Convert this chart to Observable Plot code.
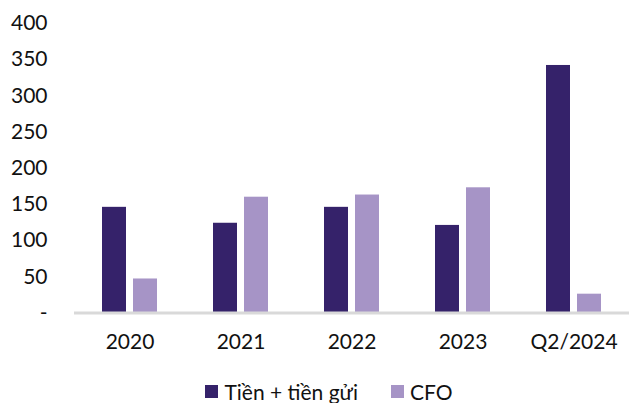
<!DOCTYPE html>
<html>
<head>
<meta charset="utf-8">
<script src="https://cdn.jsdelivr.net/npm/d3@7"></script>
<script src="https://cdn.jsdelivr.net/npm/@observablehq/plot@0.6"></script>
<style>
  html, body { margin: 0; padding: 0; background: #fff; }
  #chart { width: 630px; font-family: Lato, "Open Sans", sans-serif; }
  .legend { display: flex; justify-content: center; align-items: center; gap: 33px; height: 24px; padding-top: 17px; font-size: 21px; color: #111; padding-left: 28px; }
  .legend span.item { display: flex; align-items: center; gap: 6px; }
  .legend i { display: inline-block; width: 13px; height: 13px; }
</style>
</head>
<body>
<div id="chart"></div>
<script>
const periods = ["2020", "2021", "2022", "2023", "Q2/2024"];
const seriesNames = ["Tiền + tiền gửi", "CFO"];
const cashDeposits = [146, 124, 146, 121, 342];
const cfo = [47, 160, 163, 173, 26];
const colors = ["#35226a", "#a694c6"];
const yTicks = [0, 50, 100, 150, 200, 250, 300, 350, 400];

const data = [];
periods.forEach((p, i) => {
  data.push({period: p, series: seriesNames[0], value: cashDeposits[i]});
  data.push({period: p, series: seriesNames[1], value: cfo[i]});
});

const chart = Plot.plot({
  width: 630,
  height: 362,
  marginLeft: 72,
  marginRight: 0,
  marginTop: 23,
  marginBottom: 49.5,
  style: {fontFamily: "Lato, 'Open Sans', sans-serif", fontSize: "21px", color: "#111", background: "#fff"},
  fx: {domain: periods, padding: 0, label: null, axis: null},
  x: {domain: seriesNames, paddingInner: 0.22, paddingOuter: 0.854, axis: null},
  y: {domain: [0, 400], ticks: yTicks, label: null},
  color: {domain: seriesNames, range: colors},
  marks: [
    Plot.axisY({ticks: yTicks, tickSize: 0, tickPadding: 27, tickFormat: d => d === 0 ? "-" : d, label: null, fontSize: 21}),
    Plot.axisFx({anchor: "bottom", tickSize: 0, tickPadding: 21, label: null, fontSize: 21}),
    Plot.barY(data, {fx: "period", x: "series", y: "value", fill: "series"}),
    Plot.ruleY([0], {stroke: "#d9d9d9", strokeWidth: 3})
  ]
});

const root = document.getElementById("chart");
root.appendChild(chart);

const legend = document.createElement("div");
legend.className = "legend";
seriesNames.forEach((name, i) => {
  const item = document.createElement("span");
  item.className = "item";
  const sw = document.createElement("i");
  sw.style.background = colors[i];
  item.appendChild(sw);
  item.appendChild(document.createTextNode(name));
  legend.appendChild(item);
});
root.appendChild(legend);
</script>
</body>
</html>
